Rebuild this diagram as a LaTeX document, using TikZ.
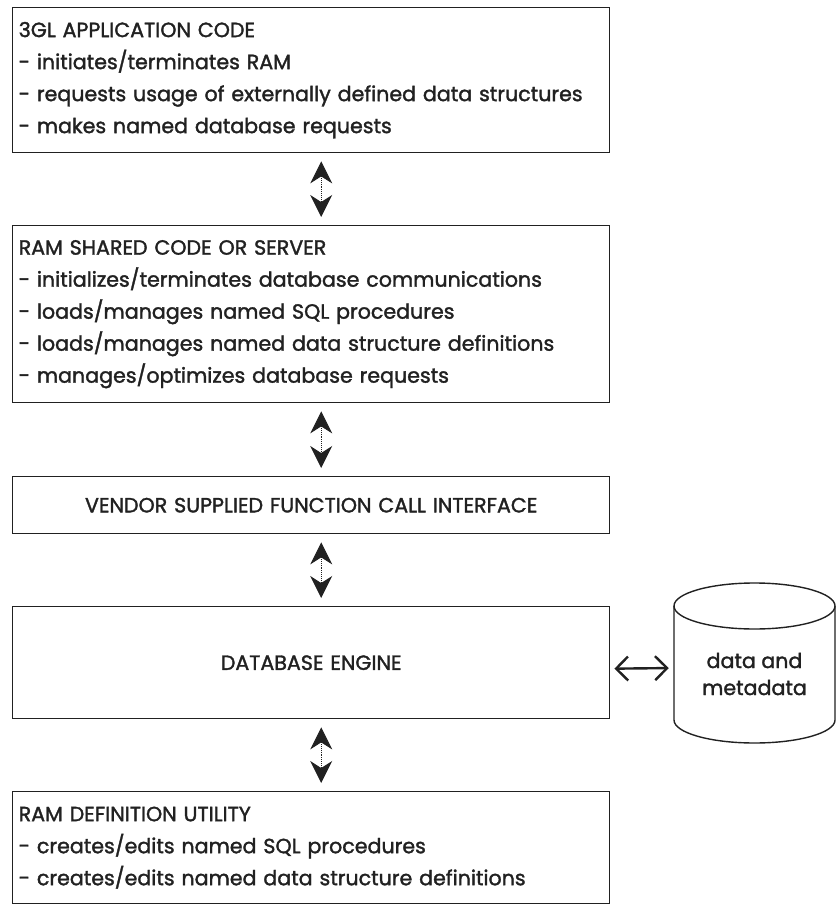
\documentclass[tikz,border=0pt]{standalone}
\usepackage{fontspec}
\setmainfont{Poppins}[RawFeature={embolden=1.6}]
\usetikzlibrary{arrows.meta}
\definecolor{ink}{gray}{0.13}
\begin{document}
\begin{tikzpicture}[x=1pt,y=-1pt,
  box/.style={draw=ink, line width=1.4pt, anchor=north west, minimum width=597pt,
    inner xsep=6pt, inner ysep=0pt, text=ink, text width=585pt,
    font=\fontsize{20.6}{32}\selectfont},
  listbox/.style={box, align=left},
  centerbox/.style={box, align=center},
  bighead/.style={Stealth[length=22pt,width=22pt,inset=7pt]},
  vlink/.style={draw=ink, densely dotted, line width=0.9pt,
    {Stealth[length=22pt,width=22pt,inset=7pt]}-{Stealth[length=22pt,width=22pt,inset=7pt]},
    shorten <=8pt, shorten >=8pt},
  hlink/.style={draw=ink, line width=2.4pt,
    {Straight Barb[length=12pt,width=24pt]}-{Straight Barb[length=12pt,width=24pt]},
    shorten <=4pt, shorten >=5pt},
  cyl/.style={draw=ink, line width=1.4pt},
  cyltext/.style={minimum width=161pt, inner sep=0pt, align=center, text=ink,
    font=\fontsize{20.6}{27}\selectfont}
]
\useasboundingbox (0,0) rectangle (839,904);

% the five stacked layers
\node[listbox, minimum height=145pt] (app) at (12,7)
  {3GL APPLICATION CODE\\
   - initiates/terminates RAM\\
   - requests usage of externally defined data structures\\
   - makes named database requests};

\node[listbox, minimum height=177pt] (ram) at (12,225)
  {RAM SHARED CODE OR SERVER\\
   - initializes/terminates database communications\\
   - loads/manages named SQL procedures\\
   - loads/manages named data structure definitions\\
   - manages/optimizes database requests};

\node[centerbox, minimum height=57pt] (fci) at (12,476)
  {VENDOR SUPPLIED FUNCTION CALL INTERFACE};

\node[centerbox, minimum height=112pt] (engine) at (12,606)
  {DATABASE ENGINE};

\node[listbox, minimum height=112pt] (util) at (12,791)
  {RAM DEFINITION UTILITY\\
   - creates/edits named SQL procedures\\
   - creates/edits named data structure definitions};

% data store drawn as a cylinder
\draw[cyl] (674,606) -- (674,720)
  arc[start angle=180, end angle=0, x radius=80.5, y radius=23] -- (835,606);
\draw[cyl] (754.5,606) ellipse [x radius=80.5, y radius=23];
\node[cyltext] (db) at (754.5,674) {data and\\metadata};

% connections between the layers
\draw[vlink] ([xshift=10pt]app.south) -- ([xshift=10pt]ram.north);
\draw[vlink] ([xshift=10pt]ram.south) -- ([xshift=10pt]fci.north);
\draw[vlink] ([xshift=10pt]fci.south) -- ([xshift=10pt]engine.north);
\draw[vlink] ([xshift=10pt]engine.south) -- ([xshift=10pt]util.north);
\draw[hlink] ([yshift=-6pt]engine.east) -- ([yshift=6pt]db.west);
\end{tikzpicture}
\end{document}
